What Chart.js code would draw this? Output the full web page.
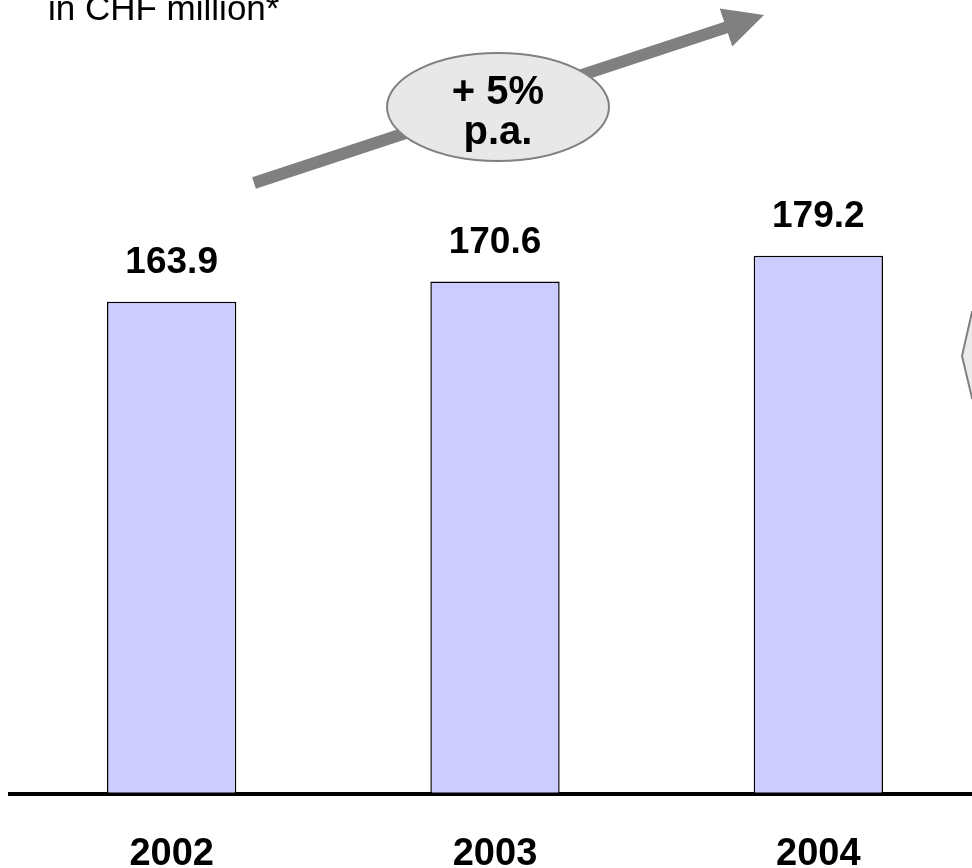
<!DOCTYPE html>
<html>
<head>
<meta charset="utf-8">
<script src="https://cdn.jsdelivr.net/npm/chart.js@4/dist/chart.umd.min.js"></script>
<style>
  html, body { margin: 0; padding: 0; background: #fff; overflow: hidden; }
  #wrap { width: 990px; height: 916px; }
</style>
</head>
<body>
<div id="wrap"><canvas id="grafico"></canvas></div>
<script>
const anios = ["2002", "2003", "2004"];
const ingresos = [163.9, 170.6, 179.2];
const titulo = "in CHF million*";
const crecimiento = ["+ 5%", "p.a."];

const fuente = "'Liberation Sans', Arial, sans-serif";

// textos, flecha y elipse de crecimiento
const decoracion = {
    id: "decoracion",
    afterDatasetsDraw(chart) {
        const ctx = chart.ctx;
        const area = chart.chartArea;
        const meta = chart.getDatasetMeta(0);

        ctx.save();
        ctx.fillStyle = "#000";
        ctx.font = "35px " + fuente;
        ctx.textAlign = "left";
        ctx.textBaseline = "alphabetic";
        ctx.fillText(titulo, 48, 20);

        ctx.font = "bold 37px " + fuente;
        ctx.textAlign = "center";
        meta.data.forEach((barra, i) => {
            ctx.fillText(ingresos[i].toFixed(1), barra.x, barra.y - 29);
        });

        // flecha
        const x0 = area.left + 244, y0 = 183;
        const x1 = area.left + 754, y1 = 15;
        const ang = Math.atan2(y1 - y0, x1 - x0);
        const largoPunta = 40, anchoPunta = 20;
        const bx = x1 - largoPunta * Math.cos(ang), by = y1 - largoPunta * Math.sin(ang);
        ctx.strokeStyle = "#808080";
        ctx.fillStyle = "#808080";
        ctx.lineWidth = 12;
        ctx.beginPath();
        ctx.moveTo(x0, y0);
        ctx.lineTo(bx + 2 * Math.cos(ang), by + 2 * Math.sin(ang));
        ctx.stroke();
        ctx.beginPath();
        ctx.moveTo(x1, y1);
        ctx.lineTo(bx + anchoPunta * Math.sin(ang), by - anchoPunta * Math.cos(ang));
        ctx.lineTo(bx - anchoPunta * Math.sin(ang), by + anchoPunta * Math.cos(ang));
        ctx.closePath();
        ctx.fill();

        // elipse
        ctx.beginPath();
        ctx.ellipse(area.left + 488, 107, 111, 54, 0, 0, Math.PI * 2);
        ctx.fillStyle = "#e8e8e8";
        ctx.fill();
        ctx.lineWidth = 2;
        ctx.strokeStyle = "#808080";
        ctx.stroke();

        ctx.fillStyle = "#000";
        ctx.font = "bold 40px " + fuente;
        ctx.fillText(crecimiento[0], area.left + 488, 104);
        ctx.fillText(crecimiento[1], area.left + 488, 144);

        // forma cortada del borde derecho
        ctx.beginPath();
        ctx.moveTo(980, 312);
        ctx.lineTo(972, 312);
        ctx.lineTo(962, 356);
        ctx.lineTo(972, 398);
        ctx.lineTo(980, 398);
        ctx.fillStyle = "#ebebeb";
        ctx.fill();
        ctx.lineWidth = 2;
        ctx.strokeStyle = "#808080";
        ctx.stroke();
        ctx.restore();
    }
};

new Chart(document.getElementById("grafico"), {
    type: "bar",
    data: {
        labels: anios,
        datasets: [{
            data: ingresos,
            backgroundColor: "#ccccff",
            borderColor: "#000",
            borderWidth: 1.5,
            borderSkipped: false,
            categoryPercentage: 1,
            barPercentage: 0.4
        }]
    },
    options: {
        responsive: true,
        maintainAspectRatio: false,
        animation: false,
        layout: { padding: { top: 13, left: 10, right: 10, bottom: 0 } },
        plugins: { legend: { display: false }, tooltip: { enabled: false } },
        scales: {
            x: {
                grid: { display: false, drawTicks: false },
                border: { display: true, color: "#000", width: 4 },
                ticks: { color: "#000", padding: 42, font: { family: fuente, size: 38, weight: "bold", lineHeight: 1 } }
            },
            y: {
                display: false,
                min: 0,
                max: 260
            }
        }
    },
    plugins: [decoracion]
});
</script>
</body>
</html>
